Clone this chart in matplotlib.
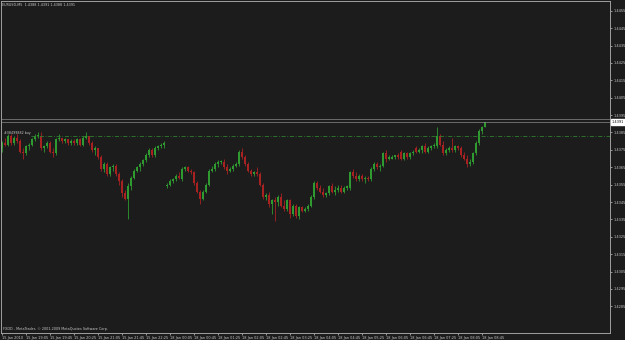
import matplotlib
matplotlib.use("Agg")
import matplotlib.pyplot as plt

# EURUSD M5, 15 Jan 2010 18:40 .. 18 Jan 2010 08:45 (weekend skipped)
opens = [1.4376, 1.4379, 1.4378, 1.4383, 1.4379, 1.4382, 1.4380, 1.4374, 1.4373, 1.4377,
         1.4378, 1.4381, 1.4383, 1.4383, 1.4376, 1.4377, 1.4379, 1.4374, 1.4373, 1.4381,
         1.4382, 1.4380, 1.4381, 1.4379, 1.4380, 1.4379, 1.4381, 1.4378, 1.4382, 1.4383,
         1.4379, 1.4375, 1.4376, 1.4371, 1.4364, 1.4367, 1.4361, 1.4365, 1.4366, 1.4361,
         1.4357, 1.4350, 1.4347, 1.4354, 1.4359, 1.4363, 1.4365, 1.4367, 1.4369, 1.4372,
         1.4375, 1.4372, 1.4376, 1.4377, 1.4378,
         1.4354, 1.4355, 1.4357, 1.4358, 1.4360, 1.4358, 1.4364, 1.4365, 1.4363, 1.4362,
         1.4356, 1.4351, 1.4347, 1.4351, 1.4355, 1.4363, 1.4364, 1.4367, 1.4368, 1.4368,
         1.4365, 1.4363, 1.4364, 1.4366, 1.4367, 1.4374, 1.4371, 1.4367, 1.4363, 1.4361,
         1.4362, 1.4361, 1.4355, 1.4348, 1.4349, 1.4344, 1.4346, 1.4345, 1.4348, 1.4343,
         1.4341, 1.4346, 1.4338, 1.4343, 1.4337, 1.4342, 1.4340, 1.4341, 1.4343, 1.4348,
         1.4356, 1.4353, 1.4351, 1.4349, 1.4350, 1.4354, 1.4351, 1.4352, 1.4353, 1.4351,
         1.4353, 1.4353, 1.4362, 1.4360, 1.4358, 1.4360, 1.4358, 1.4359, 1.4358, 1.4364,
         1.4367, 1.4365, 1.4366, 1.4373, 1.4370, 1.4370, 1.4371, 1.4372, 1.4374, 1.4370,
         1.4373, 1.4371, 1.4373, 1.4376, 1.4374, 1.4375, 1.4377, 1.4374, 1.4376, 1.4377,
         1.4377, 1.4383, 1.4378, 1.4373, 1.4375, 1.4376, 1.4375, 1.4377, 1.4376, 1.4372,
         1.4370, 1.4367, 1.4368, 1.4373, 1.4379, 1.4386, 1.4388]
highs = [1.4380, 1.4382, 1.4384, 1.4384, 1.4383, 1.4384, 1.4381, 1.4376, 1.4378, 1.4379,
         1.4382, 1.4384, 1.4385, 1.4385, 1.4378, 1.4380, 1.4380, 1.4376, 1.4382, 1.4384,
         1.4382, 1.4382, 1.4381, 1.4381, 1.4381, 1.4382, 1.4382, 1.4383, 1.4385, 1.4383,
         1.4380, 1.4377, 1.4376, 1.4372, 1.4368, 1.4368, 1.4366, 1.4367, 1.4367, 1.4362,
         1.4358, 1.4352, 1.4356, 1.4360, 1.4364, 1.4366, 1.4368, 1.4370, 1.4373, 1.4376,
         1.4376, 1.4377, 1.4378, 1.4379, 1.4380,
         1.4356, 1.4358, 1.4359, 1.4361, 1.4362, 1.4365, 1.4366, 1.4366, 1.4364, 1.4363,
         1.4357, 1.4352, 1.4352, 1.4356, 1.4364, 1.4366, 1.4368, 1.4369, 1.4369, 1.4370,
         1.4367, 1.4365, 1.4367, 1.4368, 1.4375, 1.4376, 1.4372, 1.4368, 1.4364, 1.4363,
         1.4365, 1.4362, 1.4356, 1.4350, 1.4351, 1.4347, 1.4348, 1.4349, 1.4350, 1.4346,
         1.4347, 1.4347, 1.4344, 1.4344, 1.4343, 1.4343, 1.4342, 1.4344, 1.4349, 1.4357,
         1.4357, 1.4355, 1.4353, 1.4351, 1.4355, 1.4356, 1.4354, 1.4355, 1.4355, 1.4354,
         1.4355, 1.4363, 1.4364, 1.4362, 1.4361, 1.4361, 1.4360, 1.4360, 1.4365, 1.4368,
         1.4368, 1.4367, 1.4374, 1.4375, 1.4372, 1.4372, 1.4372, 1.4373, 1.4375, 1.4374,
         1.4374, 1.4374, 1.4375, 1.4377, 1.4376, 1.4378, 1.4379, 1.4377, 1.4378, 1.4379,
         1.4388, 1.4384, 1.4380, 1.4376, 1.4377, 1.4382, 1.4378, 1.4378, 1.4377, 1.4374,
         1.4372, 1.4370, 1.4374, 1.4380, 1.4387, 1.4389, 1.4391]
lows = [1.4374, 1.4377, 1.4377, 1.4378, 1.4378, 1.4379, 1.4373, 1.4370, 1.4372, 1.4375,
        1.4377, 1.4380, 1.4382, 1.4375, 1.4374, 1.4376, 1.4373, 1.4371, 1.4372, 1.4380,
        1.4379, 1.4379, 1.4378, 1.4378, 1.4378, 1.4378, 1.4377, 1.4377, 1.4381, 1.4378,
        1.4374, 1.4372, 1.4370, 1.4363, 1.4362, 1.4360, 1.4360, 1.4363, 1.4360, 1.4355,
        1.4348, 1.4346, 1.4335, 1.4352, 1.4358, 1.4362, 1.4363, 1.4366, 1.4368, 1.4371,
        1.4371, 1.4371, 1.4375, 1.4376, 1.4376,
        1.4353, 1.4354, 1.4356, 1.4357, 1.4358, 1.4357, 1.4363, 1.4362, 1.4361, 1.4355,
        1.4350, 1.4344, 1.4346, 1.4350, 1.4354, 1.4362, 1.4363, 1.4365, 1.4367, 1.4364,
        1.4361, 1.4362, 1.4363, 1.4365, 1.4366, 1.4370, 1.4366, 1.4362, 1.4360, 1.4360,
        1.4360, 1.4354, 1.4347, 1.4346, 1.4342, 1.4338, 1.4334, 1.4343, 1.4342, 1.4340,
        1.4340, 1.4336, 1.4337, 1.4336, 1.4335, 1.4339, 1.4339, 1.4340, 1.4342, 1.4347,
        1.4352, 1.4350, 1.4348, 1.4348, 1.4349, 1.4350, 1.4349, 1.4351, 1.4350, 1.4350,
        1.4352, 1.4352, 1.4359, 1.4357, 1.4357, 1.4357, 1.4356, 1.4357, 1.4357, 1.4363,
        1.4364, 1.4363, 1.4365, 1.4368, 1.4369, 1.4370, 1.4370, 1.4370, 1.4369, 1.4369,
        1.4370, 1.4370, 1.4372, 1.4373, 1.4373, 1.4373, 1.4373, 1.4373, 1.4375, 1.4376,
        1.4376, 1.4377, 1.4372, 1.4372, 1.4374, 1.4374, 1.4374, 1.4375, 1.4371, 1.4369,
        1.4365, 1.4366, 1.4367, 1.4372, 1.4378, 1.4384, 1.4388]
closes = [1.4379, 1.4378, 1.4383, 1.4379, 1.4382, 1.4380, 1.4374, 1.4373, 1.4377, 1.4378,
          1.4381, 1.4383, 1.4383, 1.4376, 1.4377, 1.4379, 1.4374, 1.4373, 1.4381, 1.4382,
          1.4380, 1.4381, 1.4379, 1.4380, 1.4379, 1.4381, 1.4378, 1.4382, 1.4383, 1.4379,
          1.4375, 1.4376, 1.4371, 1.4364, 1.4367, 1.4361, 1.4365, 1.4366, 1.4361, 1.4357,
          1.4350, 1.4347, 1.4354, 1.4359, 1.4363, 1.4365, 1.4367, 1.4369, 1.4372, 1.4375,
          1.4372, 1.4376, 1.4377, 1.4378, 1.4379,
          1.4355, 1.4357, 1.4358, 1.4360, 1.4359, 1.4364, 1.4365, 1.4363, 1.4362, 1.4356,
          1.4351, 1.4347, 1.4351, 1.4355, 1.4363, 1.4364, 1.4367, 1.4368, 1.4368, 1.4365,
          1.4363, 1.4364, 1.4366, 1.4367, 1.4374, 1.4371, 1.4367, 1.4363, 1.4361, 1.4362,
          1.4361, 1.4355, 1.4348, 1.4349, 1.4344, 1.4346, 1.4345, 1.4348, 1.4343, 1.4341,
          1.4346, 1.4338, 1.4343, 1.4337, 1.4342, 1.4340, 1.4341, 1.4343, 1.4348, 1.4356,
          1.4353, 1.4351, 1.4349, 1.4350, 1.4354, 1.4351, 1.4352, 1.4353, 1.4351, 1.4353,
          1.4354, 1.4362, 1.4360, 1.4358, 1.4360, 1.4358, 1.4359, 1.4358, 1.4364, 1.4367,
          1.4365, 1.4366, 1.4373, 1.4370, 1.4371, 1.4371, 1.4372, 1.4371, 1.4370, 1.4373,
          1.4371, 1.4373, 1.4374, 1.4374, 1.4375, 1.4377, 1.4374, 1.4376, 1.4377, 1.4378,
          1.4383, 1.4378, 1.4373, 1.4375, 1.4376, 1.4375, 1.4377, 1.4376, 1.4372, 1.4370,
          1.4367, 1.4368, 1.4373, 1.4379, 1.4386, 1.4388, 1.4391]

time_labels = ["15 Jan 2010", "15 Jan 19:05", "15 Jan 19:45", "15 Jan 20:25", "15 Jan 21:05",
               "15 Jan 21:45", "15 Jan 22:25", "18 Jan 00:05", "18 Jan 00:45", "18 Jan 01:25",
               "18 Jan 02:05", "18 Jan 02:45", "18 Jan 03:25", "18 Jan 04:05", "18 Jan 04:45",
               "18 Jan 05:25", "18 Jan 06:05", "18 Jan 06:45", "18 Jan 07:25", "18 Jan 08:05",
               "18 Jan 08:45"]
time_label_bars = [0, 8, 16, 24, 32, 40, 48, 56, 64, 72, 80, 88, 96, 104, 112, 120, 128, 136, 144, 152, 160]
price_ticks = [1.4455, 1.4445, 1.4435, 1.4425, 1.4415, 1.4405, 1.4395, 1.4385, 1.4375,
               1.4365, 1.4355, 1.4345, 1.4335, 1.4325, 1.4315, 1.4305, 1.4295, 1.4285]
bid = 1.4391
ask = 1.4393
order_price = 1.4383

bg = '#1c1c1c'
up_col = '#2f9a2f'
dn_col = '#a82222'
txt_col = '#c8c8c8'

fig = plt.figure(figsize=(6.25, 3.4), dpi=100)
fig.patch.set_facecolor(bg)
ax = fig.add_axes([0.0016, 0.0206, 0.9744, 0.9764])
ax.set_facecolor(bg)

for i in range(len(opens)):
    col = up_col if closes[i] >= opens[i] else dn_col
    ax.vlines(i, lows[i], highs[i], color=col, linewidth=0.6)
    lo = min(opens[i], closes[i])
    h = max(abs(closes[i] - opens[i]), 0.00004)
    ax.bar(i, h, bottom=lo, width=0.62, color=col, linewidth=0)

# bid / ask and order line
ax.axhline(ask, color='#8a8a8a', linewidth=0.5)
ax.axhline(bid, color='#8a8a8a', linewidth=0.5)
ax.axhline(order_price, xmin=0.05, color='#2e7d2e', linewidth=0.6, linestyle=(0, (5, 2, 1, 2)))
ax.text(0.8, order_price + 0.00003, "#38499882 buy", fontsize=2.3, color=txt_col,
        ha='left', va='bottom')

ax.set_xlim(-0.3, 202.7)
ax.set_ylim(1.42697, 1.44606)

ax.yaxis.tick_right()
ax.set_yticks(price_ticks)
ax.set_yticklabels([f"{p:.4f}" for p in price_ticks])
ax.set_xticks(time_label_bars)
ax.set_xticklabels(time_labels, ha='left')
ax.tick_params(axis='both', colors=txt_col, labelsize=2.5, length=1.5, width=0.5, pad=0.8)
for s in ax.spines.values():
    s.set_color('#a0a0a0')
    s.set_linewidth(0.7)

# current price box
ax.annotate(f"{bid:.4f}", xy=(1.0, bid), xycoords=('axes fraction', 'data'),
            xytext=(1.2, 0), textcoords='offset points', fontsize=2.5, color='black',
            va='center', ha='left',
            bbox=dict(boxstyle='square,pad=0.2', fc='white', ec='white'),
            annotation_clip=False)

fig.text(0.004, 0.985, "EURUSD,M5  1.4388 1.4391 1.4388 1.4391", fontsize=2.4,
         color=txt_col, ha='left', va='center')
ax.text(0.003, 0.006, "FXDD - MetaTrader, \u00a9 2001-2009 MetaQuotes Software Corp.",
        transform=ax.transAxes, fontsize=2.4, color=txt_col, ha='left', va='bottom')

fig.savefig("out.png", dpi=100, facecolor=bg)
